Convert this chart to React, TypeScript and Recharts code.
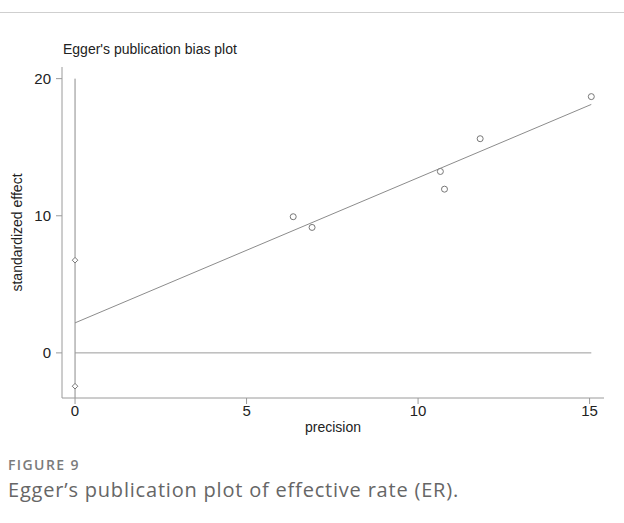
import React from "react";
import {
  ComposedChart,
  Scatter,
  Line,
  XAxis,
  YAxis,
  Label,
} from "recharts";

// study points: precision (1/se) vs standardized effect
const precision = [6.36, 6.91, 10.65, 10.77, 11.81, 15.05];
const stdEffect = [9.93, 9.15, 13.23, 11.94, 15.62, 18.69];

// intercept confidence limits, drawn at precision = 0
const ciLimits = [6.76, -2.43];

// regression fit end points
const fitX = [0, 15.05];
const fitY = [2.19, 18.12];

// reference lines
const zeroLineX = [0, 15.05];
const verticalLineY = [20, -3.29];

const xTicks = [0, 5, 10, 15];
const yTicks = [0, 10, 20];

const studies = precision.map((x, i) => ({ x, y: stdEffect[i] }));
const ciPoints = ciLimits.map((y) => ({ x: 0, y }));
const fitData = fitX.map((x, i) => ({ x, y: fitY[i] }));
const zeroData = zeroLineX.map((x) => ({ x, y: 0 }));
const vertData = verticalLineY.map((y) => ({ x: 0, y }));

const GRAY = "#8c8c8c";
const AXIS = "#9a9a9a";
const FONT = "'Liberation Sans', Arial, sans-serif";

const CircleShape = (props: any) => (
  <circle cx={props.cx} cy={props.cy} r={3} fill="#fff" stroke="#777" strokeWidth={1} />
);

const DiamondShape = (props: any) => {
  const { cx, cy } = props;
  const s = 2.8;
  return (
    <path
      d={`M${cx},${cy - s}L${cx + s},${cy}L${cx},${cy + s}L${cx - s},${cy}Z`}
      fill="#fff"
      stroke="#777"
      strokeWidth={1}
    />
  );
};

export default function App() {
  return (
    <div style={{ position: "absolute", left: 0, top: 0, width: 624, height: 523, background: "#fff" }}>
      <div style={{ position: "absolute", left: 0, top: 12, width: 624, height: 1, background: "#cfcfcf" }} />
      <div
        style={{
          position: "absolute",
          left: 63,
          top: 41,
          fontFamily: FONT,
          fontSize: 14,
          color: "#222",
          whiteSpace: "nowrap",
        }}
      >
        Egger's publication bias plot
      </div>
      <div style={{ position: "absolute", left: 0, top: 0 }}>
        <ComposedChart
          width={624}
          height={450}
          margin={{ top: 67, right: 20, bottom: 22, left: 22 }}
        >
          <XAxis
            type="number"
            dataKey="x"
            domain={[-0.38, 15.42]}
            allowDataOverflow
            ticks={xTicks}
            tickSize={6}
            tickMargin={1}
            height={30}
            stroke={AXIS}
            tick={{ fill: "#222", fontSize: 15, fontFamily: FONT }}
          >
            <Label value="precision" position="insideBottom" offset={-4} fill="#222" fontSize={14} fontFamily={FONT} />
          </XAxis>
          <YAxis
            type="number"
            dataKey="y"
            domain={[-3.29, 20.85]}
            allowDataOverflow
            ticks={yTicks}
            tickSize={6}
            tickMargin={5}
            width={40}
            stroke={AXIS}
            tick={{ fill: "#222", fontSize: 15, fontFamily: FONT }}
          >
            <Label
              value="standardized effect"
              angle={-90}
              position="insideLeft"
              offset={-5}
              style={{ textAnchor: "middle" }}
              fill="#222"
              fontSize={14}
              fontFamily={FONT}
            />
          </YAxis>
          <Line data={vertData} dataKey="y" stroke={GRAY} strokeWidth={1} dot={false} isAnimationActive={false} />
          <Line data={zeroData} dataKey="y" stroke={AXIS} strokeWidth={1} dot={false} isAnimationActive={false} />
          <Line data={fitData} dataKey="y" stroke={GRAY} strokeWidth={1} dot={false} isAnimationActive={false} />
          <Scatter data={ciPoints} shape={DiamondShape} isAnimationActive={false} />
          <Scatter data={studies} shape={CircleShape} isAnimationActive={false} />
        </ComposedChart>
      </div>
      <div
        style={{
          position: "absolute",
          left: 8,
          top: 458,
          fontFamily: "'Open Sans', sans-serif",
          fontSize: 14,
          lineHeight: "14px",
          fontWeight: 600,
          letterSpacing: 1.4,
          color: "#7b7b7b",
          whiteSpace: "nowrap",
        }}
      >
        FIGURE 9
      </div>
      <div
        style={{
          position: "absolute",
          left: 8,
          top: 480,
          fontFamily: "'Open Sans', sans-serif",
          fontSize: 20,
          lineHeight: "20px",
          letterSpacing: 0.8,
          color: "#666",
          whiteSpace: "nowrap",
        }}
      >
        Egger’s publication plot of effective rate (ER).
      </div>
    </div>
  );
}
